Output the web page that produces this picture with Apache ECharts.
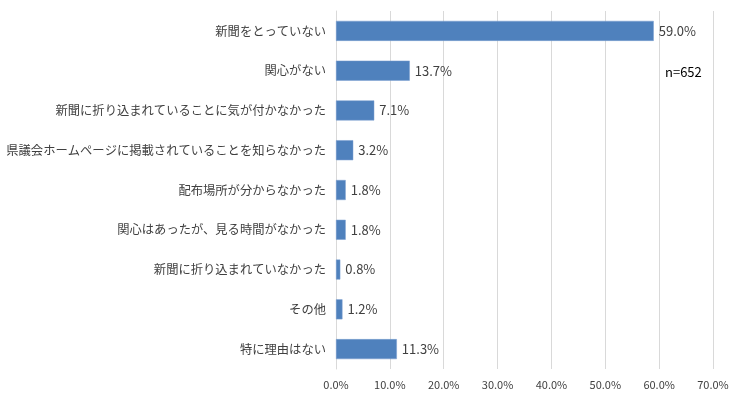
<!DOCTYPE html>
<html>
<head>
<meta charset="utf-8">
<script src="https://cdn.jsdelivr.net/npm/echarts@6/dist/echarts.min.js"></script>
<style>
  html, body { margin: 0; padding: 0; background: #fff; }
  #chart { width: 740px; height: 397px; }
</style>
</head>
<body>
<div id="chart"></div>
<script>
  // 上から順の項目と割合（%）
  var categories = [
    '新聞をとっていない',
    '関心がない',
    '新聞に折り込まれていることに気が付かなかった',
    '県議会ホームページに掲載されていることを知らなかった',
    '配布場所が分からなかった',
    '関心はあったが、見る時間がなかった',
    '新聞に折り込まれていなかった',
    'その他',
    '特に理由はない'
  ];
  var values = [59.0, 13.7, 7.1, 3.2, 1.8, 1.8, 0.8, 1.2, 11.3];
  var sampleNote = 'n=652';

  var font = '"Noto Sans CJK JP", "Noto Sans", sans-serif';
  var chart = echarts.init(document.getElementById('chart'));

  chart.setOption({
    animation: false,
    textStyle: { fontFamily: font },
    grid: { left: 336, right: 27, top: 11, bottom: 28, containLabel: false },
    graphic: [{
      type: 'text',
      left: 665,
      top: 66,
      style: { text: sampleNote, fontSize: 13, fill: '#000', fontFamily: font }
    }],
    xAxis: {
      type: 'value',
      min: 0,
      max: 70,
      interval: 10,
      axisLine: { show: false },
      axisTick: { show: false },
      splitLine: { lineStyle: { color: '#d9d9d9', width: 1 } },
      axisLabel: {
        color: '#404040',
        fontSize: 11,
        margin: 10,
        formatter: function (v) { return v.toFixed(1) + '%'; }
      }
    },
    yAxis: {
      type: 'category',
      inverse: true,
      data: categories,
      axisLine: { show: true, lineStyle: { color: '#d9d9d9' } },
      axisTick: { show: false },
      axisLabel: { color: '#404040', fontSize: 12.3, margin: 10 }
    },
    series: [{
      type: 'bar',
      data: values,
      barWidth: 20,
      itemStyle: { color: '#4f81bd', borderColor: '#7a9fd0', borderWidth: 0.5 },
      label: {
        show: true,
        position: 'right',
        distance: 5,
        color: '#404040',
        fontSize: 13,
        formatter: function (p) { return p.value.toFixed(1) + '%'; }
      }
    }]
  });
</script>
</body>
</html>
